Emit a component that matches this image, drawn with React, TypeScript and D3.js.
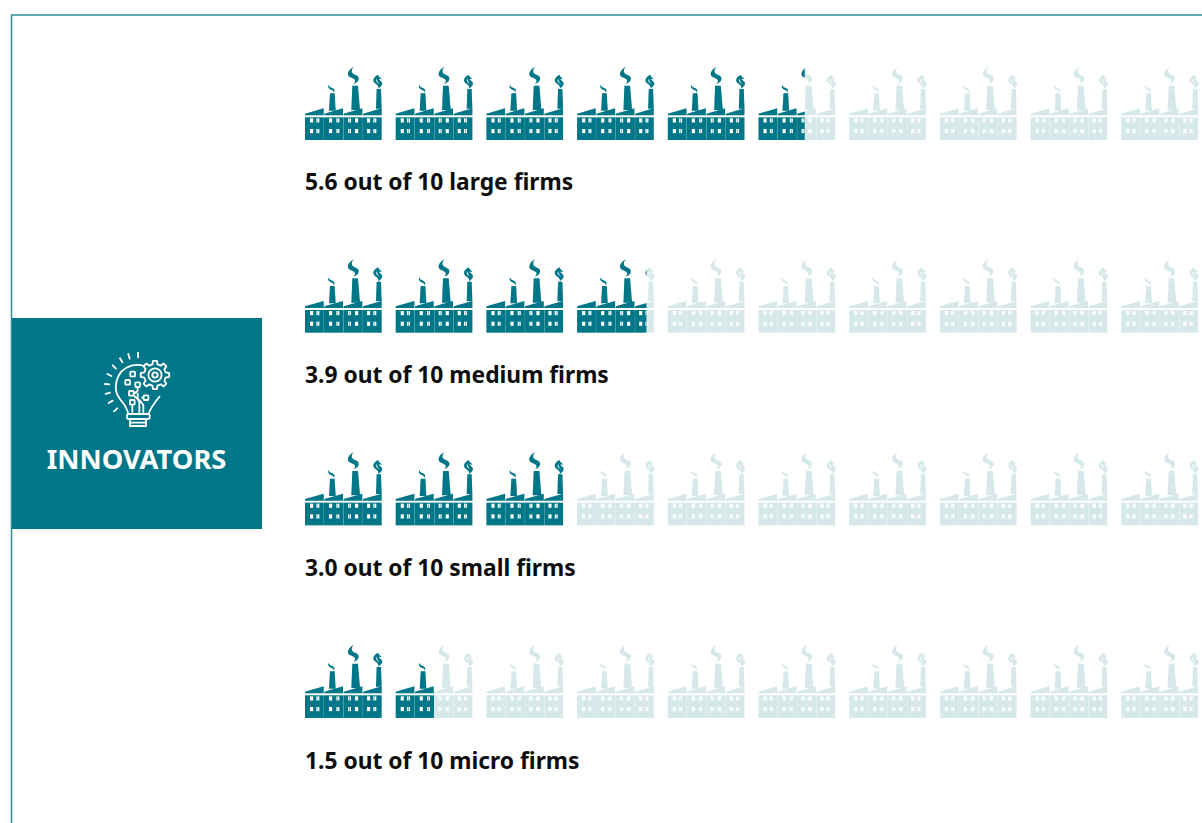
import React from "react";
import * as d3 from "d3";

// Share of firms per size class, in firms out of ten
const sizes = ["large", "medium", "small", "micro"];
const shares = [5.6, 3.9, 3.0, 1.5];
const units = d3.range(10);
const heading = "INNOVATORS";

const DARK = "#007789";
const PALE = "#d6e8ea";
const ICON_W = 77;

const columnX = d3.scaleLinear().domain([0, 10]).range([305, 1212]);
const rowY = d3.scalePoint<string>().domain(sizes).range([68, 646]);
const labelY = d3.scalePoint<string>().domain(sizes).range([190, 769]);

// Factory glyph in a 230-unit-wide design space, origin at (30, 24)
const roofs = [30, 88, 146, 204];
const bodies: [number, number][] = [[30, 86.4], [87, 145.4], [146, 203.4], [204, 260]];
const windowRows = [175, 207];
const narrowPanes = [64, 69, 124, 129, 159, 164, 235, 240];
const widePanes = [45, 102, 180, 216];

function Factory({ fill }: { fill: string }) {
  return (
    <g fill={fill}>
      <path d="M101 74C96 85 106 88 112 91C116 93 116 95 115 98C121 93 119 87 112 84C106 82 102 80 101 74Z" />
      <path d="M176 20C160 28 152 46 166 52C178 57 186 60 176 72C194 66 196 50 182 45C170 41 166 32 176 20Z" />
      <path
        fillRule="evenodd"
        d="M250 44C236 50 230 62 240 70C248 76 252 78 250 86C260 80 266 70 258 64C250 58 250 54 260 58C258 52 250 52 250 44ZM246 56C240 62 246 68 254 72C248 66 246 62 246 56Z"
      />
      <path d="M105 100H119L122 152H102Z" />
      <path d="M172 77H189L195 150H169Z" />
      <path d="M245 87H258L260 146H243Z" />
      {roofs.map((x) => (
        <path key={x} d={`M${x} 161L${x + 56} 145V166H${x}Z`} />
      ))}
      {bodies.map(([a, b]) => (
        <rect key={a} x={a} y={172} width={b - a} height={68} />
      ))}
      {windowRows.map((y) => (
        <g key={y} fill="#ffffff">
          {narrowPanes.map((x) => (
            <rect key={x} x={x} y={y} width={4} height={12.5} />
          ))}
          {widePanes.map((x) => (
            <rect key={x} x={x} y={y} width={9.5} height={12.5} />
          ))}
        </g>
      ))}
    </g>
  );
}

// Gear outline built from alternating tooth radii
function gearPath(cx: number, cy: number, rOuter: number, rInner: number, teeth: number) {
  const points: [number, number][] = [];
  for (let i = 0; i < teeth; i++) {
    const step = (Math.PI * 2) / teeth;
    const t = i * step;
    [[-0.3, rInner], [-0.17, rOuter], [0.17, rOuter], [0.3, rInner]].forEach(([f, r]) => {
      points.push([cx + r * Math.cos(t + f * step), cy + r * Math.sin(t + f * step)]);
    });
  }
  return d3.line()(points) + "Z";
}

const rays = [
  [174, 38, 174, 52], [145, 42, 149, 56], [120, 55, 127, 67], [98, 76, 108, 86],
  [82, 102, 94, 108], [75, 132, 88, 133], [77, 162, 90, 158], [86, 189, 98, 182], [102, 214, 112, 205],
];
const chips: [number, number][] = [[158, 102], [143, 127], [173, 134], [154, 160], [198, 173], [157, 187]];
const traces = [
  "M173 141V152L162 162", "M157 194V218", "M173 158V178L178 186V218",
  "M191 173H184", "M162 168L180 182L190 195V218",
];

function BulbIcon() {
  return (
    <g transform="translate(80,340) scale(0.3333)" fill="none" stroke="#ffffff" strokeWidth={5.5}>
      {rays.map((r, i) => (
        <line key={i} x1={r[0]} y1={r[1]} x2={r[2]} y2={r[3]} strokeLinecap="round" />
      ))}
      <path d="M145 222C140 200 132 192 122 180C94 148 108 92 152 78C168 73 180 74 192 78" />
      <path d="M206 222C210 205 222 190 240 168" />
      <path d={gearPath(225, 105, 43, 33, 8)} strokeLinejoin="round" />
      <circle cx={225} cy={105} r={20} />
      <circle cx={225} cy={105} r={8} />
      {chips.map(([x, y]) => (
        <rect key={`${x}-${y}`} x={x - 7} y={y - 7} width={14} height={14} rx={2} />
      ))}
      {traces.map((d) => (
        <path key={d} d={d} />
      ))}
      <rect x={141} y={222} width={68} height={15} rx={5} />
      <path d="M150 237V258H198V237M150 248H198" />
    </g>
  );
}

export default function App() {
  const font = "'Noto Sans', 'Open Sans', sans-serif";
  return (
    <svg
      width={1202}
      height={823}
      viewBox="0 0 1202 823"
      style={{ position: "absolute", left: 0, top: 0, background: "#ffffff" }}
      fontFamily={font}
    >
      <path d="M11.5 823V15H1202" fill="none" stroke="#2f8f9c" strokeWidth={1.5} />
      <rect x={12} y={318} width={250} height={211} fill={DARK} />
      <BulbIcon />
      <text x={136.5} y={469} textAnchor="middle" fontSize={27.3} fontWeight={700} fill="#ffffff">
        {heading}
      </text>

      <defs>
        {sizes.map((size, r) => {
          const whole = Math.floor(shares[r]);
          const edge = columnX(whole) + (shares[r] - whole) * ICON_W;
          return (
            <clipPath id={`filled-${size}`} key={size}>
              <rect x={0} y={0} width={edge} height={823} />
            </clipPath>
          );
        })}
      </defs>

      {sizes.map((size, r) => {
        const top = rowY(size) as number;
        const glyphs = (fill: string) =>
          units.map((u) => (
            <g key={u} transform={`translate(${columnX(u) - 10},${top - 8}) scale(0.3333)`}>
              <Factory fill={fill} />
            </g>
          ));
        return (
          <g key={size}>
            <g>{glyphs(PALE)}</g>
            <g clipPath={`url(#filled-${size})`}>{glyphs(DARK)}</g>
            <text x={305} y={labelY(size)} fontSize={22.8} fontWeight={700} fill="#0d0d0d">
              {`${shares[r].toFixed(1)} out of 10 ${size} firms`}
            </text>
          </g>
        );
      })}
    </svg>
  );
}
